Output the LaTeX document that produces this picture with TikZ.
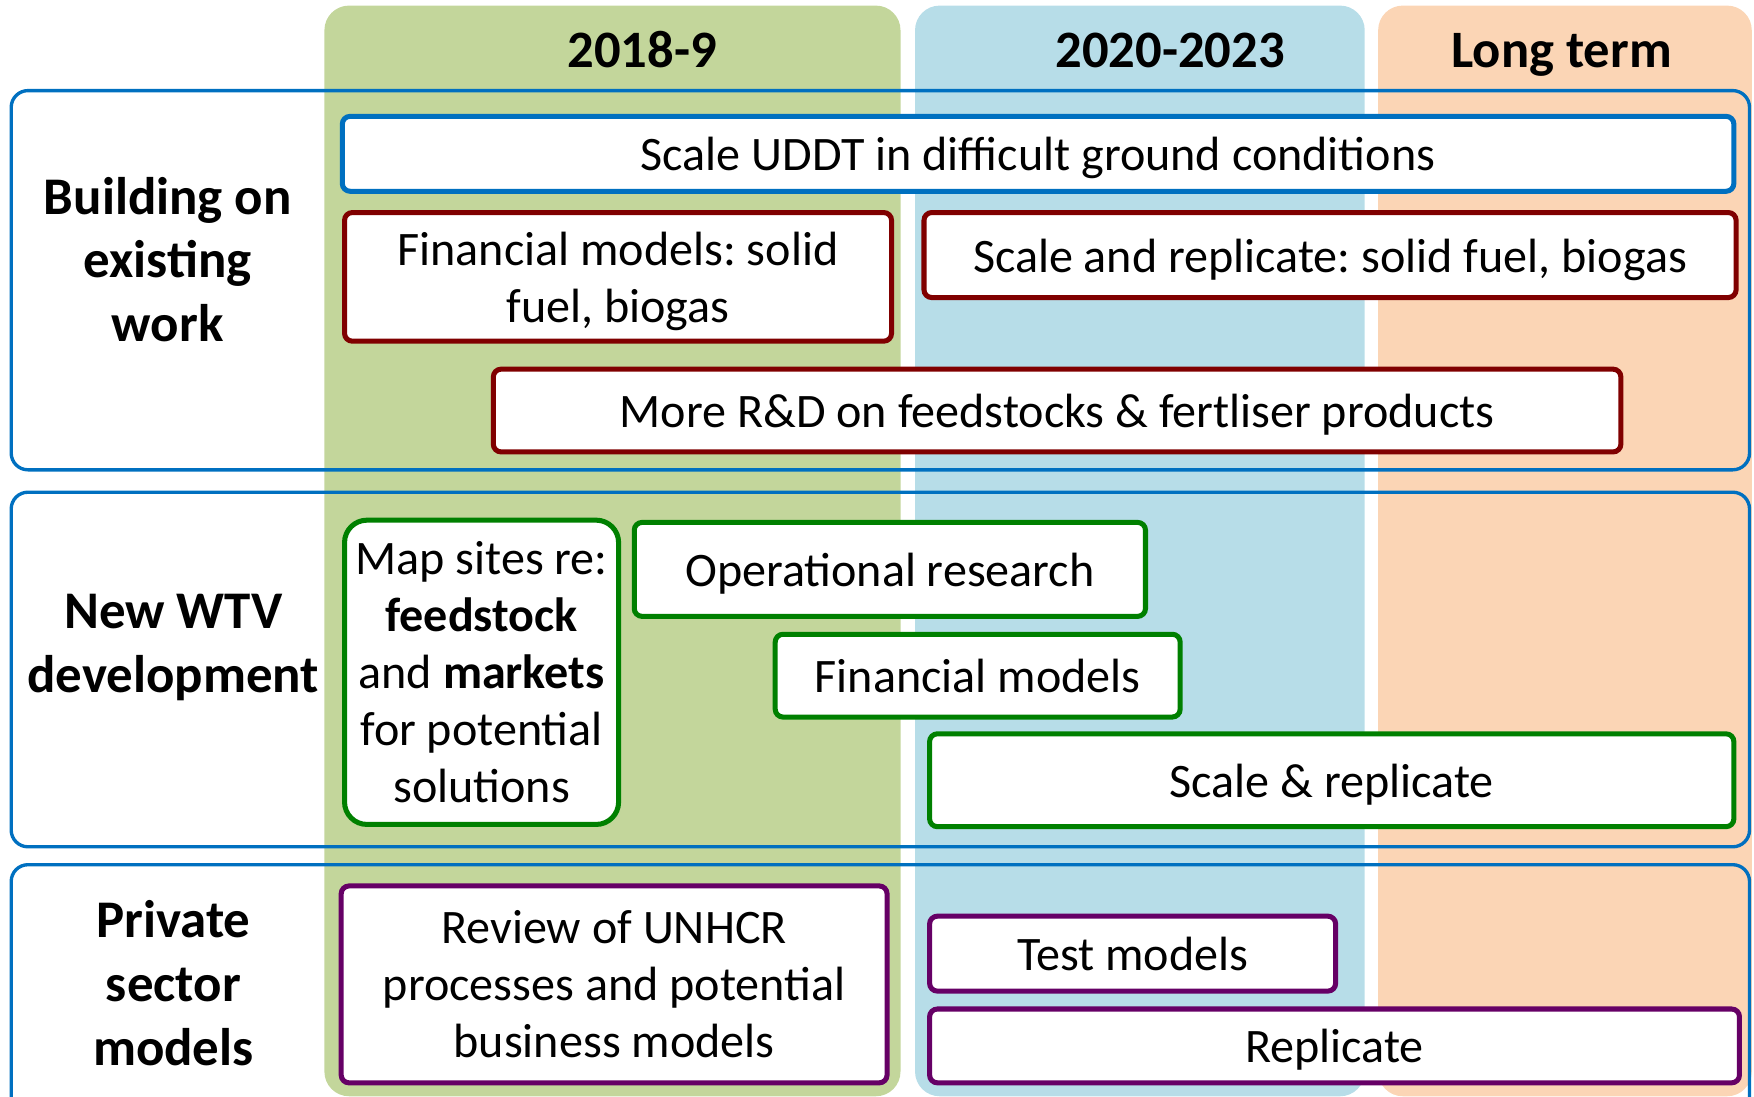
\documentclass[tikz,border=0pt]{standalone}
\usepackage{fontspec}
\setmainfont{Carlito}
\frenchspacing
\definecolor{colgreen}{HTML}{C3D69B}
\definecolor{colblue}{HTML}{B7DDE8}
\definecolor{colpeach}{HTML}{FBD5B5}
\definecolor{rowblue}{HTML}{0070C0}
\definecolor{dred}{HTML}{800000}
\definecolor{dgreen}{HTML}{008000}
\definecolor{dpurple}{HTML}{660066}
\tikzset{
  bodytxt/.style={font=\fontsize{43}{51}\selectfont, align=center, inner sep=0pt},
  task/.style={bodytxt, draw, fill=white, line width=4.5pt, rounded corners=7pt},
  oneline/.style={text height=38pt, text depth=7.5pt},
  uddtbox/.style={task, draw=rowblue},
  redtask/.style={task, draw=dred},
  greentask/.style={task, draw=dgreen},
  purpletask/.style={task, draw=dpurple},
  headtxt/.style={font=\fontsize{47}{57}\selectfont\bfseries, inner sep=0pt, anchor=base},
  rowlabel/.style={font=\fontsize{47.3}{57}\selectfont\bfseries, align=center, inner sep=0pt},
  rowbox/.style={draw=rowblue, line width=3pt, rounded corners=15pt},
  column/.style={rounded corners=22pt},
}
\begin{document}
\begin{tikzpicture}[x=1pt,y=-1pt]
\useasboundingbox (0,0) rectangle (1568,980);
\clip (0,0) rectangle (1568,980);
% columns
\fill[column, colgreen] (290,5) rectangle (805,980);
\fill[column, colblue] (818,5) rectangle (1220,980);
\fill[column, colpeach] (1232,5) rectangle (1566,980);
% headers
\node[headtxt] (h1) at (574,60) {2018-9};
\node[headtxt] (h2) at (1046,60) {2020-2023};
\node[headtxt] (h3) at (1396,60) {Long term};
% row boxes
\draw[rowbox] (10,81) rectangle (1564,420);
\draw[rowbox] (10,440) rectangle (1564,757);
\draw[rowbox] (10,773) rectangle (1564,1010);
% row labels
\node[rowlabel] (r1) at (150,232) {Building on\\existing\\work};
\node[rowlabel] (r2) at (155,579) {New WTV\\development};
\node[rowlabel] (r3) at (155,879) {Private\\sector\\models};
% row 1 tasks
\node[uddtbox, oneline, minimum width=1244, minimum height=67] (uddt) at (928,137.5) {Scale UDDT in difficult ground conditions};
\node[redtask, minimum width=489, minimum height=115] (fin1) at (552.5,247.5) {\rule{0pt}{38pt}Financial models: solid\\fuel, biogas};
\node[redtask, oneline, minimum width=726, minimum height=76] (scale1) at (1189,228) {Scale and replicate: solid fuel, biogas};
\node[redtask, oneline, minimum width=1008, minimum height=74] (rd) at (945,367) {More R\&D on feedstocks \& fertliser products};
% row 2 tasks
\node[greentask, rounded corners=20pt, minimum width=245, minimum height=272] (map) at (430.5,601) {Map sites re:\\\textbf{feedstock}\\and \textbf{markets}\\for potential\\solutions};
\node[greentask, oneline, minimum width=457, minimum height=84] (oper) at (795.5,509) {Operational research};
\node[greentask, oneline, minimum width=362, minimum height=74] (fin2) at (874,604) {Financial models};
\node[greentask, oneline, minimum width=719, minimum height=83] (scale2) at (1190.5,697.5) {Scale \& replicate};
% row 3 tasks
\node[purpletask, minimum width=488, minimum height=176] (review) at (549,880) {Review of UNHCR\\processes and potential\\business models};
\node[purpletask, oneline, minimum width=363, minimum height=67] (test) at (1012.5,852.5) {Test models};
\node[purpletask, oneline, minimum width=724, minimum height=66] (repl) at (1193,935) {Replicate};
\end{tikzpicture}
\end{document}
